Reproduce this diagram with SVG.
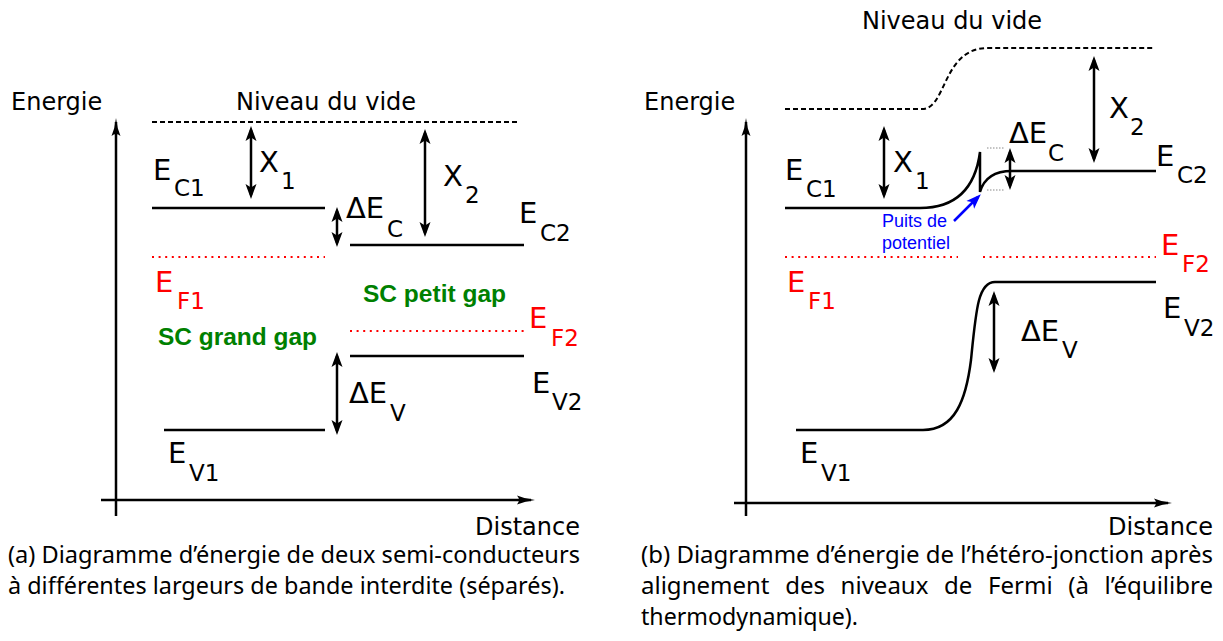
<svg xmlns="http://www.w3.org/2000/svg" width="1223" height="641" viewBox="0 0 1223 641">
<style>
.ln{stroke:#000;stroke-width:2.5;fill:none}
.ax{stroke:#000;stroke-width:2.5;fill:none;marker-end:url(#axh)}
.vac{stroke:#000;stroke-width:2;stroke-dasharray:5,3;fill:none}
.ef{stroke:#f00;stroke-width:2;stroke-dasharray:2,4.6;fill:none}
.gd{stroke:#888;stroke-width:1;stroke-dasharray:1.5,1.5;fill:none}
.dbl{stroke:#000;stroke-width:2.5;fill:none;marker-start:url(#ah);marker-end:url(#ah)}
.blu{stroke:#00f;stroke-width:2.5;fill:none;marker-end:url(#bh)}
.t{font-family:"DejaVu Sans",sans-serif;font-size:24px;fill:#000}
.lb{font-family:"DejaVu Sans",sans-serif;font-size:29px;fill:#000}
.sb{font-size:23px}
.red{fill:#f00}
.gr{font-family:"Liberation Sans",Arial,sans-serif;font-weight:bold;font-size:24px;fill:#008000}
.bl{font-family:"Liberation Sans",Arial,sans-serif;font-size:18px;fill:#00f}
.cap{font-family:"Noto Sans",sans-serif;font-size:23px;fill:#000}
</style>
<defs>
<marker id="ah" viewBox="0 -6 15 12" refX="11" refY="0" markerWidth="15" markerHeight="12" markerUnits="userSpaceOnUse" orient="auto-start-reverse"><path d="M0,-5.5 L15,0 L0,5.5 L3.5,0 Z" fill="#000"/></marker>
<marker id="axh" viewBox="0 -5 18 10" refX="14" refY="0" markerWidth="18" markerHeight="10" markerUnits="userSpaceOnUse" orient="auto"><path d="M0,-4.5 Q8,-1 18,0 Q8,1 0,4.5 Q4,0 0,-4.5 Z" fill="#000"/></marker>
<marker id="bh" viewBox="0 -6 15 12" refX="11" refY="0" markerWidth="15" markerHeight="12" markerUnits="userSpaceOnUse" orient="auto"><path d="M0,-5.5 L15,0 L0,5.5 L3.5,0 Z" fill="#00f"/></marker>
</defs>

<!-- Panel (a) -->
<g id="a-axes">
<line class="ax" x1="116" y1="516" x2="116" y2="122"/>
<line class="ax" x1="101" y1="500" x2="531" y2="500"/>
<text class="t" x="11" y="110">Energie</text>
<text class="t" x="475" y="535">Distance</text>
</g>
<g id="a-vacuum">
<line class="vac" x1="152" y1="122" x2="520" y2="122"/>
<text class="t" x="236" y="110">Niveau du vide</text>
</g>
<g id="a-ec1">
<line class="ln" x1="152" y1="208" x2="325" y2="208"/>
<text class="lb" x="153" y="180">E<tspan class="sb" x="174" y="196">C1</tspan></text>
</g>
<g id="a-ec2">
<line class="ln" x1="350" y1="245" x2="524" y2="245"/>
<text class="lb" x="519" y="223">E<tspan class="sb" x="540" y="241">C2</tspan></text>
</g>
<g id="a-ef1">
<line class="ef" x1="152" y1="257" x2="325" y2="257"/>
<text class="lb red" x="155" y="292">E<tspan class="sb" x="177" y="309">F1</tspan></text>
</g>
<g id="a-ef2">
<line class="ef" x1="350" y1="331" x2="524" y2="331"/>
<text class="lb red" x="529" y="328">E<tspan class="sb" x="551" y="346">F2</tspan></text>
</g>
<g id="a-ev2">
<line class="ln" x1="350" y1="356" x2="524" y2="356"/>
<text class="lb" x="532" y="393">E<tspan class="sb" x="552" y="410">V2</tspan></text>
</g>
<g id="a-ev1">
<line class="ln" x1="164" y1="430" x2="325" y2="430"/>
<text class="lb" x="168" y="463">E<tspan class="sb" x="189" y="481">V1</tspan></text>
</g>
<g id="a-labels">
<text class="gr" x="363" y="302" textLength="143" lengthAdjust="spacingAndGlyphs">SC petit gap</text>
<text class="gr" x="158" y="345" textLength="159" lengthAdjust="spacingAndGlyphs">SC grand gap</text>
<text class="lb" x="259" y="172">X<tspan class="sb" x="281" y="189">1</tspan></text>
<text class="lb" x="443" y="186">X<tspan class="sb" x="465" y="203">2</tspan></text>
<text class="lb" x="346" y="218">ΔE<tspan class="sb" x="387" y="237">C</tspan></text>
<text class="lb" x="349" y="403">ΔE<tspan class="sb" x="390" y="421">V</tspan></text>
</g>

<!-- Panel (b) -->
<g id="b-axes">
<line class="ax" x1="746" y1="516" x2="746" y2="122"/>
<line class="ax" x1="734" y1="503" x2="1168" y2="503"/>
<text class="t" x="644" y="110">Energie</text>
<text class="t" x="1108" y="535">Distance</text>
</g>
<g id="b-vacuum">
<path class="vac" d="M785,109 H922 C947,109 942,48 988,48 H1153"/>
<text class="t" x="862" y="29">Niveau du vide</text>
</g>
<g id="b-ec">
<path class="ln" d="M785,208 H920 C955,208 975,190 980,152 V192 C984,178 995,171 1012,171 H1156"/>
<line class="gd" x1="987" y1="148" x2="1005" y2="148"/>
<line class="gd" x1="987" y1="190" x2="1005" y2="190"/>
<text class="lb" x="785" y="180">E<tspan class="sb" x="806" y="197">C1</tspan></text>
<text class="lb" x="1156" y="166">E<tspan class="sb" x="1177" y="183">C2</tspan></text>
</g>
<g id="b-ef">
<line class="ef" x1="785" y1="257" x2="958" y2="257"/>
<line class="ef" x1="983" y1="257" x2="1156" y2="257"/>
<text class="lb red" x="1161" y="255">E<tspan class="sb" x="1182" y="272">F2</tspan></text>
<text class="lb red" x="787" y="292">E<tspan class="sb" x="808" y="309">F1</tspan></text>
</g>
<g id="b-ev">
<path class="ln" d="M796,430 H923 C955,430 966,400 971,360 C976,310 978,282 995,282 H1156"/>
<text class="lb" x="1163" y="318">E<tspan class="sb" x="1184" y="336">V2</tspan></text>
<text class="lb" x="800" y="463">E<tspan class="sb" x="821" y="481">V1</tspan></text>
</g>
<g id="b-well">
<text class="bl" x="882" y="227">Puits de</text>
<text class="bl" x="882" y="249">potentiel</text>
</g>
<g id="b-labels">
<text class="lb" x="893" y="172">X<tspan class="sb" x="915" y="189">1</tspan></text>
<text class="lb" x="1109" y="118">X<tspan class="sb" x="1130" y="135">2</tspan></text>
<text class="lb" x="1009" y="143">ΔE<tspan class="sb" x="1048" y="161">C</tspan></text>
<text class="lb" x="1021" y="341">ΔE<tspan class="sb" x="1062" y="358">V</tspan></text>
</g>

<g id="connectors">
<line class="dbl" x1="251" y1="130" x2="251" y2="195"/>
<line class="dbl" x1="337" y1="211" x2="337" y2="243"/>
<line class="dbl" x1="425" y1="133" x2="425" y2="233"/>
<line class="dbl" x1="337" y1="356" x2="337" y2="431"/>
<line class="dbl" x1="884" y1="130" x2="884" y2="195"/>
<line class="dbl" x1="1010" y1="152" x2="1010" y2="186"/>
<line class="dbl" x1="1094" y1="60" x2="1094" y2="159"/>
<line class="dbl" x1="994" y1="295" x2="994" y2="369"/>
<line class="blu" x1="954" y1="221" x2="978" y2="197"/>
</g>

<g id="captions">
<text class="cap" x="8" y="563" textLength="572" lengthAdjust="spacingAndGlyphs">(a) Diagramme d’énergie de deux semi-conducteurs</text>
<text class="cap" x="8" y="594" textLength="557" lengthAdjust="spacingAndGlyphs">à différentes largeurs de bande interdite (séparés).</text>
<text class="cap" x="641" y="563" textLength="572" lengthAdjust="spacingAndGlyphs">(b) Diagramme d’énergie de l’hétéro-jonction après</text>
<text class="cap" x="641" y="594" word-spacing="9" textLength="572" lengthAdjust="spacingAndGlyphs">alignement des niveaux de Fermi (à l’équilibre</text>
<text class="cap" x="641" y="625" textLength="217" lengthAdjust="spacingAndGlyphs">thermodynamique).</text>
</g>
</svg>
